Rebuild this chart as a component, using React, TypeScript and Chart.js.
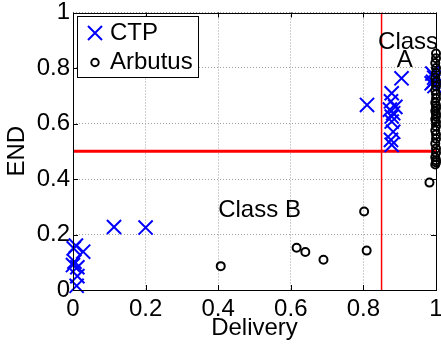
import React, { useEffect, useRef } from 'react';
import { Chart, registerables } from 'chart.js';

Chart.register(...registerables);

// ---- data ----
const xTicks = [0, 0.2, 0.4, 0.6, 0.8, 1];
const yTicks = [0, 0.2, 0.4, 0.6, 0.8, 1];
const xTickLabels = ['0', '0.2', '0.4', '0.6', '0.8', '1'];
const yTickLabels = ['0', '0.2', '0.4', '0.6', '0.8', '1'];

const ctpX = [
  0.010, 0.012, 0.000, 0.004, 0.012, 0.002, 0.028, 0.008, 0.113, 0.200,
  0.810, 0.905, 0.878, 0.876, 0.873, 0.882, 0.878, 0.888, 0.878, 0.882, 0.876, 0.878,
  0.990, 0.995, 0.992, 0.996, 0.988,
];
const ctpY = [
  0.015, 0.050, 0.090, 0.102, 0.082, 0.150, 0.138, 0.160, 0.227, 0.225,
  0.667, 0.763, 0.709, 0.680, 0.650, 0.637, 0.625, 0.660, 0.607, 0.570, 0.541, 0.523,
  0.780, 0.765, 0.750, 0.735, 0.745,
];

const arbX = [
  0.407, 0.616, 0.640, 0.690, 0.802, 0.809, 0.982,
  1.000, 1.000, 0.998, 1.000, 1.000, 0.998, 1.000, 1.000, 0.998, 1.000,
  1.000, 0.998, 1.000, 1.000, 0.998, 1.000, 1.000, 0.998, 1.000, 1.000,
  0.998, 1.000, 1.000, 0.998, 1.000, 1.000, 0.998, 1.000, 1.000, 0.998,
];
const arbY = [
  0.086, 0.152, 0.137, 0.109, 0.283, 0.142, 0.387,
  0.852, 0.835, 0.818, 0.800, 0.782, 0.765, 0.750, 0.735, 0.720, 0.705,
  0.690, 0.675, 0.665, 0.655, 0.645, 0.635, 0.625, 0.615, 0.605, 0.590,
  0.575, 0.560, 0.545, 0.528, 0.510, 0.495, 0.478, 0.468, 0.460, 0.452,
];

const deliveryThreshold = 0.85;
const endThreshold = 0.5;

const seriesNames = ['CTP', 'Arbutus'];
const classBLabel = 'Class B';
const classALines = ['Class', 'A'];

const FONT = '"Liberation Sans", Arial, Helvetica, sans-serif';

const overlayPlugin = {
  id: 'overlay',
  afterDraw(chart: any) {
    const { ctx, chartArea } = chart;
    const xs = chart.scales.x;
    const ys = chart.scales.y;
    const { left, right, top, bottom } = chartArea;
    ctx.save();

    // box
    ctx.strokeStyle = '#000';
    ctx.lineWidth = 1;
    ctx.setLineDash([]);
    ctx.strokeRect(Math.round(left) + 0.5, Math.round(top) + 0.5,
      Math.round(right) - Math.round(left), Math.round(bottom) - Math.round(top));

    // inward ticks
    const tl = 5;
    ctx.beginPath();
    xTicks.forEach((v) => {
      const px = Math.round(xs.getPixelForValue(v)) + 0.5;
      ctx.moveTo(px, bottom); ctx.lineTo(px, bottom - tl);
      ctx.moveTo(px, top); ctx.lineTo(px, top + tl);
    });
    yTicks.forEach((v) => {
      const py = Math.round(ys.getPixelForValue(v)) + 0.5;
      ctx.moveTo(left, py); ctx.lineTo(left + tl, py);
      ctx.moveTo(right, py); ctx.lineTo(right - tl, py);
    });
    ctx.stroke();

    // class annotations
    ctx.fillStyle = '#000';
    ctx.font = `24px ${FONT}`;
    ctx.textBaseline = 'alphabetic';
    ctx.textAlign = 'left';
    ctx.fillText(classBLabel, xs.getPixelForValue(0.40), ys.getPixelForValue(0.263));
    ctx.textAlign = 'center';
    ctx.fillText(classALines[0], xs.getPixelForValue(0.923), ys.getPixelForValue(0.868));
    ctx.fillText(classALines[1], xs.getPixelForValue(0.914), ys.getPixelForValue(0.804));

    // legend box
    const lx = 77.5, ly = 16.5, lw = 121, lh = 61;
    ctx.fillStyle = '#fff';
    ctx.fillRect(lx, ly, lw, lh);
    ctx.strokeStyle = '#000';
    ctx.lineWidth = 1;
    ctx.strokeRect(lx, ly, lw, lh);

    // legend markers
    const mx = 95;
    const y1 = 33, y2 = 62.5;
    const h = 7;
    ctx.strokeStyle = '#0000ff';
    ctx.lineWidth = 2;
    ctx.beginPath();
    ctx.moveTo(mx - h, y1 - h); ctx.lineTo(mx + h, y1 + h);
    ctx.moveTo(mx + h, y1 - h); ctx.lineTo(mx - h, y1 + h);
    ctx.stroke();
    ctx.strokeStyle = '#000';
    ctx.beginPath();
    ctx.arc(mx, y2, 3.7, 0, Math.PI * 2);
    ctx.stroke();

    ctx.fillStyle = '#000';
    ctx.textAlign = 'left';
    ctx.textBaseline = 'middle';
    ctx.fillText(seriesNames[0], 110, y1);
    ctx.fillText(seriesNames[1], 110, y2);

    ctx.restore();
  },
};

export default function App() {
  const ref = useRef<HTMLCanvasElement | null>(null);

  useEffect(() => {
    if (!ref.current) return;
    const ctpData = ctpX.map((x, i) => ({ x, y: ctpY[i] }));
    const arbData = arbX.map((x, i) => ({ x, y: arbY[i] }));

    const chart = new Chart(ref.current, {
      type: 'scatter',
      data: {
        datasets: [
          {
            label: seriesNames[0],
            data: ctpData,
            pointStyle: 'crossRot',
            pointRadius: 10,
            borderColor: '#0000ff',
            backgroundColor: '#0000ff',
            borderWidth: 2,
            clip: false as any,
            order: 1,
          },
          {
            label: seriesNames[1],
            data: arbData,
            pointStyle: 'circle',
            pointRadius: 4,
            borderColor: '#000',
            backgroundColor: 'rgba(0,0,0,0)',
            borderWidth: 2,
            clip: false as any,
            order: 0,
          },
          {
            label: 'delivery threshold',
            data: [{ x: deliveryThreshold, y: 0 }, { x: deliveryThreshold, y: 1 }],
            showLine: true,
            pointRadius: 0,
            borderColor: '#ff0000',
            borderWidth: 1.5,
            order: 3,
          },
          {
            label: 'END threshold',
            data: [{ x: 0, y: endThreshold }, { x: 1, y: endThreshold }],
            showLine: true,
            pointRadius: 0,
            borderColor: '#ff0000',
            borderWidth: 3,
            order: 2,
          },
        ] as any,
      },
      options: {
        animation: false,
        responsive: false,
        devicePixelRatio: 1,
        events: [],
        layout: { autoPadding: false, padding: { top: 12.5, right: 5, left: 0, bottom: 0 } },
        plugins: {
          legend: { display: false },
          tooltip: { enabled: false },
        },
        scales: {
          x: {
            type: 'linear',
            min: 0,
            max: 1,
            afterBuildTicks: (s: any) => { s.ticks = xTicks.map((v) => ({ value: v })); },
            afterFit: (s: any) => { s.height = 55; s.paddingLeft = 0; s.paddingRight = 0; },
            ticks: {
              color: '#000',
              font: { family: FONT, size: 24 },
              padding: 5,
              maxRotation: 0,
              autoSkip: false,
              callback: (_v: any, i: number) => xTickLabels[i],
            },
            grid: { color: '#a0a0a0', lineWidth: 1, drawTicks: false },
            border: { display: false, dash: [1, 2] },
            title: {
              display: true,
              text: 'Delivery',
              color: '#000',
              font: { family: FONT, size: 24 },
              padding: { top: 0, bottom: 2 },
            },
          },
          y: {
            type: 'linear',
            min: 0,
            max: 1,
            afterBuildTicks: (s: any) => { s.ticks = yTicks.map((v) => ({ value: v })); },
            afterFit: (s: any) => { s.width = 73; s.paddingTop = 0; s.paddingBottom = 0; },
            ticks: {
              color: '#000',
              font: { family: FONT, size: 24 },
              padding: 3,
              autoSkip: false,
              callback: (_v: any, i: number) => yTickLabels[i],
            },
            grid: { color: '#a0a0a0', lineWidth: 1, drawTicks: false },
            border: { display: false, dash: [1, 2] },
            title: {
              display: true,
              text: 'END',
              color: '#000',
              font: { family: FONT, size: 24 },
              padding: { top: 3, bottom: 0 },
            },
          },
        },
      } as any,
      plugins: [overlayPlugin],
    });

    return () => chart.destroy();
  }, []);

  return (
    <div style={{ position: 'absolute', left: 0, top: 0, width: 441, height: 345 }}>
      <canvas ref={ref} width={441} height={345} style={{ display: 'block' }} />
    </div>
  );
}
